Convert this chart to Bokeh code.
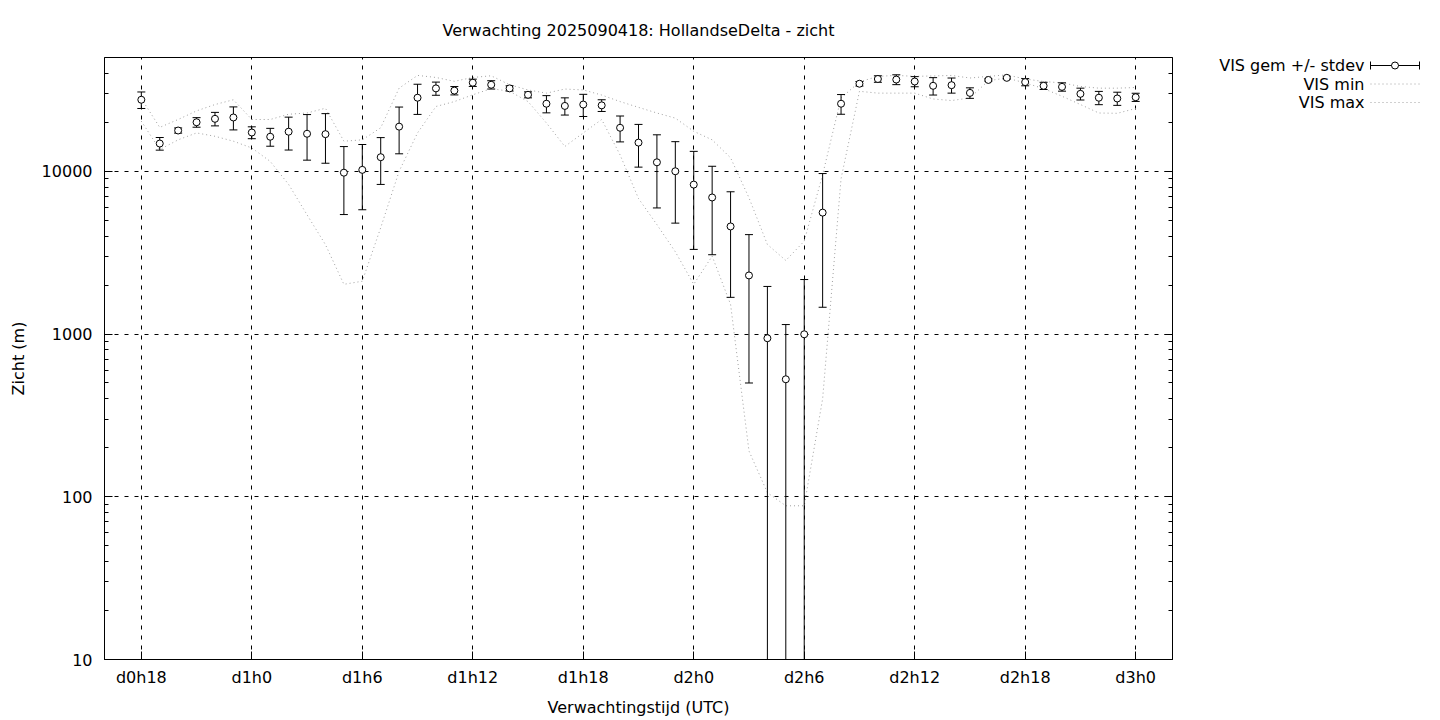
from bokeh.plotting import figure
from bokeh.layouts import row
from bokeh.models import LogAxis, FixedTicker, NumeralTickFormatter
from bokeh.core.properties import value
from bokeh.embed import file_html
from bokeh.resources import INLINE

# ---------------- data ----------------
hours = list(range(18, 73))
vis_mean = [27500, 14800, 17800, 20000, 21000, 21400, 17300, 16300, 17500, 17000,
            16900, 9800, 10200, 12200, 18800, 28300, 32300, 31300, 35000, 34000,
            32300, 29500, 26000, 25200, 25700, 25400, 18500, 15000, 11350, 10000,
            8280, 6900, 4580, 2290, 942, 527, 996, 5570, 26000, 34500,
            36900, 36600, 35600, 33500, 33800, 30300, 36400, 37500, 35300, 33500,
            33000, 29900, 28300, 28000, 28500]
vis_sd = [3200, 1320, 650, 1350, 2000, 3450, 1450, 2050, 4000, 5300,
          5700, 4380, 4400, 3900, 6000, 5950, 3000, 1850, 1800, 2000,
          1200, 1250, 3150, 3050, 4000, 2100, 3350, 4400, 5400, 5200,
          4970, 3830, 2900, 1790, 1018, 616, 1165, 4110, 3600, 1100,
          1700, 2550, 2550, 4100, 3600, 2250, 600, 600, 1800, 1700,
          1950, 2500, 2650, 2600, 1650]
vis_min = [20300, 13600, 15600, 17200, 16400, 15300, 13900, 11500, 8300, 5400,
           3540, 2020, 2110, 4500, 10000, 17200, 25000, 26800, 29500, 32200,
           31000, 26800, 19800, 14200, 17200, 20800, 12600, 6800, 4700, 3200,
           2020, 3010, 1520, 191, 106, 88, 88, 400, 9000, 31000,
           30200, 30200, 30200, 27800, 27200, 28200, 36000, 37400, 34900, 32200,
           28900, 25700, 22800, 22700, 24300]
vis_max = [28000, 18600, 20800, 23500, 25700, 27500, 20800, 20800, 22400, 22800,
           24400, 15300, 15600, 18500, 32400, 38800, 37700, 35700, 37700, 38600,
           34000, 31600, 30200, 32000, 31600, 29400, 26800, 24700, 22800, 21200,
           17600, 15600, 12100, 6870, 3550, 2830, 3720, 9530, 28200, 35400,
           38300, 38800, 38300, 38500, 38800, 37400, 38300, 39100, 36900, 35600,
           34900, 33200, 32400, 32400, 32700]

xtick_values = [18, 24, 30, 36, 42, 48, 54, 60, 66, 72]
xtick_labels = ["d0h18", "d1h0", "d1h6", "d1h12", "d1h18", "d2h0", "d2h6", "d2h12", "d2h18", "d3h0"]
ytick_values = [10, 100, 1000, 10000]

title_text = "Verwachting 2025090418: HollandseDelta - zicht"
xlabel = "Verwachtingstijd (UTC)"
ylabel = "Zicht (m)"
legend_labels = ["VIS gem +/- stdev", "VIS min", "VIS max"]

# ---------------- main figure ----------------
FONT = "DejaVu Sans"
FS = "16px"
LINE_GREY = "#a0a0a0"
FRAME_TOP = 57
FRAME_H = 602
TOTAL_H = 719

p = figure(frame_width=1068, frame_height=FRAME_H, y_axis_type="log",
           x_range=(16, 74), y_range=(10, 50000),
           output_backend="svg", toolbar_location=None,
           title=title_text)
p.min_border_left = 104
p.min_border_right = 10
p.min_border_top = FRAME_TOP
p.min_border_bottom = TOTAL_H - FRAME_TOP - FRAME_H
p.background_fill_color = "white"
p.border_fill_color = "white"
p.outline_line_color = "black"
p.outline_line_width = 1

p.title.align = "center"
p.title.text_font = FONT
p.title.text_font_size = FS
p.title.text_font_style = "normal"
p.title.text_color = "black"
p.title.standoff = 35

minor_y = [m * 10 ** e for e in range(1, 5) for m in range(2, 10) if m * 10 ** e < 50000]
yticker = FixedTicker(ticks=ytick_values, minor_ticks=minor_y)
xticker = FixedTicker(ticks=xtick_values)

xa = p.xaxis[0]
xa.ticker = xticker
xa.major_label_overrides = {v: l for v, l in zip(xtick_values, xtick_labels)}
xa.axis_label = xlabel
ya = p.yaxis[0]
ya.ticker = yticker
ya.formatter = NumeralTickFormatter(format="0")
ya.axis_label = ylabel

for ax in (xa, ya):
    ax.axis_line_color = "black"
    ax.major_tick_in = 8
    ax.major_tick_out = 0
    ax.minor_tick_in = 4
    ax.minor_tick_out = 0
    ax.major_tick_line_color = "black"
    ax.minor_tick_line_color = "black"
    ax.major_label_text_font = FONT
    ax.major_label_text_font_size = FS
    ax.major_label_text_color = "black"
    ax.axis_label_text_font = FONT
    ax.axis_label_text_font_size = FS
    ax.axis_label_text_font_style = "normal"
    ax.axis_label_text_color = "black"
xa.minor_tick_line_color = None
xa.major_label_standoff = 8
xa.axis_label_standoff = 8
ya.major_label_standoff = 12
ya.axis_label_standoff = 11

ra = LogAxis(ticker=yticker, major_label_text_color=None, major_label_text_font_size="1px",
             major_label_standoff=0, axis_line_color="black",
             major_tick_in=8, major_tick_out=0, minor_tick_in=4, minor_tick_out=0)
p.add_layout(ra, "right")

p.xgrid.ticker = xticker
p.ygrid.ticker = FixedTicker(ticks=ytick_values)
for g in (p.xgrid[0], p.ygrid[0]):
    g.grid_line_color = "black"
    g.grid_line_dash = "4 6"
    g.grid_line_width = 1
    g.grid_line_alpha = 1

p.line(hours, vis_min, line_color=LINE_GREY, line_dash="1 3", line_width=1)
p.line(hours, vis_max, line_color=LINE_GREY, line_dash="1 3", line_width=1)

err_hi = [m + s for m, s in zip(vis_mean, vis_sd)]
err_lo = [m - s if m - s > 0 else 1e-3 for m, s in zip(vis_mean, vis_sd)]
p.segment(x0=hours, y0=err_lo, x1=hours, y1=err_hi, line_color="black", line_width=1)
p.scatter(hours, err_hi, marker="dash", size=8, line_color="black", line_width=1)
p.scatter(hours, err_lo, marker="dash", size=8, line_color="black", line_width=1)
p.scatter(hours, vis_mean, marker="circle", size=7, fill_color="white",
          line_color="black", line_width=1)

# ---------------- legend panel (gnuplot-style key) ----------------
# its frame is aligned with the main frame by the row layout;
# y range is set so that a value equals the page pixel row
LEG_W = 250
leg = figure(width=LEG_W, height=TOTAL_H, x_range=(0, LEG_W),
             y_range=(FRAME_TOP + FRAME_H, FRAME_TOP),
             output_backend="svg", toolbar_location=None,
             min_border=0, min_border_left=0, min_border_right=0,
             min_border_top=0, min_border_bottom=0)
leg.axis.visible = False
leg.grid.visible = False
leg.outline_line_color = None
leg.background_fill_color = "white"
leg.border_fill_color = "white"

key_text_x = 182
key_x0, key_x1 = 188, 237
key_rows = [65, 83.5, 102]
leg.text(x=[key_text_x] * 3, y=key_rows, text=legend_labels, text_align="right",
         text_baseline="middle", text_font=value(FONT), text_font_size=value(FS),
         text_color="black")
leg.segment(x0=[key_x0], y0=[key_rows[0]], x1=[key_x1], y1=[key_rows[0]],
            line_color="black", line_width=1)
leg.segment(x0=[key_x0, key_x1], y0=[key_rows[0] - 4] * 2, x1=[key_x0, key_x1],
            y1=[key_rows[0] + 4] * 2, line_color="black", line_width=1)
leg.scatter([(key_x0 + key_x1) / 2], [key_rows[0]], marker="circle", size=7,
            fill_color="white", line_color="black", line_width=1)
leg.segment(x0=[key_x0] * 2, y0=key_rows[1:], x1=[key_x1] * 2, y1=key_rows[1:],
            line_color=LINE_GREY, line_dash="1 3", line_width=1)

layout = row(p, leg)
open("out.html", "w").write(file_html(layout, INLINE))
